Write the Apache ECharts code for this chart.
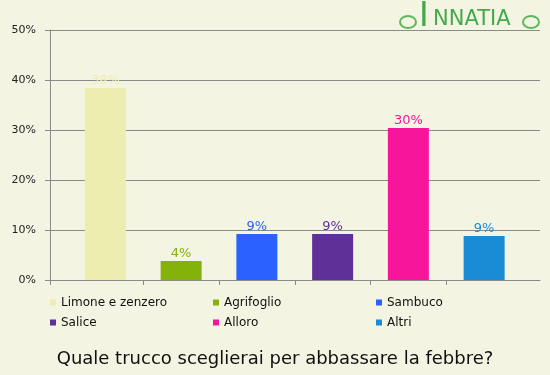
<!DOCTYPE html>
<html><head><meta charset="utf-8">
<script src="https://cdn.jsdelivr.net/npm/echarts@6/dist/echarts.min.js"></script>
<style>html,body{margin:0;padding:0;background:#f3f4e2;}#c{width:550px;height:375px;}</style>
</head><body><div id="c"></div>
<script>
const categories = ['Limone e zenzero', 'Agrifoglio', 'Sambuco', 'Salice', 'Alloro', 'Altri'];
const values = [0.384, 0.038, 0.092, 0.092, 0.304, 0.088];
const yTicks = [0, 0.1, 0.2, 0.3, 0.4, 0.5];
const title = 'Quale trucco sceglierai per abbassare la febbre?';
const colors = ['#ededb0', '#84b10a', '#2b62ff', '#5f3098', '#f7169b', '#1a8bd5'];

const FONT = 'DejaVu Sans';
const AXIS = '#8a8a8a';
// layout
const frameL = 50, frameR = 540, barL = 67.5, barR = 522;
const band = (barR - barL) / categories.length;
const xMin = -(barL - frameL) / band, xMax = (frameR - barL) / band;

const series = categories.map((name, i) => ({
  name, type: 'bar', stack: 'all', xAxisIndex: 1, yAxisIndex: 1,
  barWidth: 41,
  itemStyle: {color: colors[i]},
  label: {show: true, position: 'top', distance: 1, color: colors[i], fontFamily: FONT, fontSize: 13,
    formatter: p => Math.round(p.value * 100) + '%'},
  data: values.map((v, j) => j === i ? v : '-')
}));

const legendCols = [0, 1, 2].map(c => ({
  orient: 'vertical', left: 50 + c * 163, top: 295.5, padding: 0,
  itemWidth: 6, itemHeight: 6, itemGap: 6, icon: 'rect',
  textStyle: {fontFamily: FONT, fontSize: 12, color: '#111', lineHeight: 14},
  data: [categories[c], categories[c + 3]],
  selectedMode: false
}));

const chart = echarts.init(document.getElementById('c'), null, {renderer: 'canvas'});
chart.setOption({
  backgroundColor: '#f3f4e2',
  animation: false,
  title: {text: title, left: 'center', top: 350, padding: 0, textStyle: {fontFamily: FONT, fontSize: 18, fontWeight: 'normal', color: '#111'}},
  legend: legendCols,
  grid: [
    {left: frameL, right: 550 - frameR, top: 30, bottom: 95},
    {left: barL, right: 550 - barR, top: 30, bottom: 95}
  ],
  xAxis: [
    {gridIndex: 0, type: 'value', min: xMin, max: xMax,
      axisLine: {show: true, onZero: false, lineStyle: {color: AXIS}},
      axisTick: {show: true, length: 5, lineStyle: {color: AXIS}, customValues: [xMin, 1, 2, 3, 4, 5]},
      axisLabel: {show: false}, splitLine: {show: false}},
    {gridIndex: 1, type: 'category', data: categories, show: false}
  ],
  yAxis: [
    {gridIndex: 0, type: 'value', min: yTicks[0], max: yTicks[yTicks.length - 1], interval: 0.1,
      axisLine: {show: true, onZero: false, lineStyle: {color: AXIS}},
      axisTick: {show: true, length: 5, lineStyle: {color: AXIS}},
      axisLabel: {margin: 14, fontFamily: FONT, fontSize: 11, color: '#222', formatter: v => Math.round(v * 100) + '%'},
      splitLine: {show: true, lineStyle: {color: AXIS}}},
    {gridIndex: 1, type: 'value', min: yTicks[0], max: yTicks[yTicks.length - 1], show: false}
  ],
  graphic: [
    {type: 'text', left: 419, top: 1, style: {text: 'I', font: 'normal 33px "DejaVu Sans"', fill: '#45a84c'}},
    {type: 'text', left: 433, top: 9, style: {text: 'NNATIA', font: 'normal 21px "DejaVu Sans"', fill: '#45a84c'}},
    {type: 'ellipse', shape: {cx: 408, cy: 22, rx: 8, ry: 6}, style: {fill: 'none', stroke: '#5cb85c', lineWidth: 2}},
    {type: 'ellipse', shape: {cx: 531, cy: 22, rx: 8, ry: 6}, style: {fill: 'none', stroke: '#5cb85c', lineWidth: 2}}
  ],
  series
});
</script></body></html>
